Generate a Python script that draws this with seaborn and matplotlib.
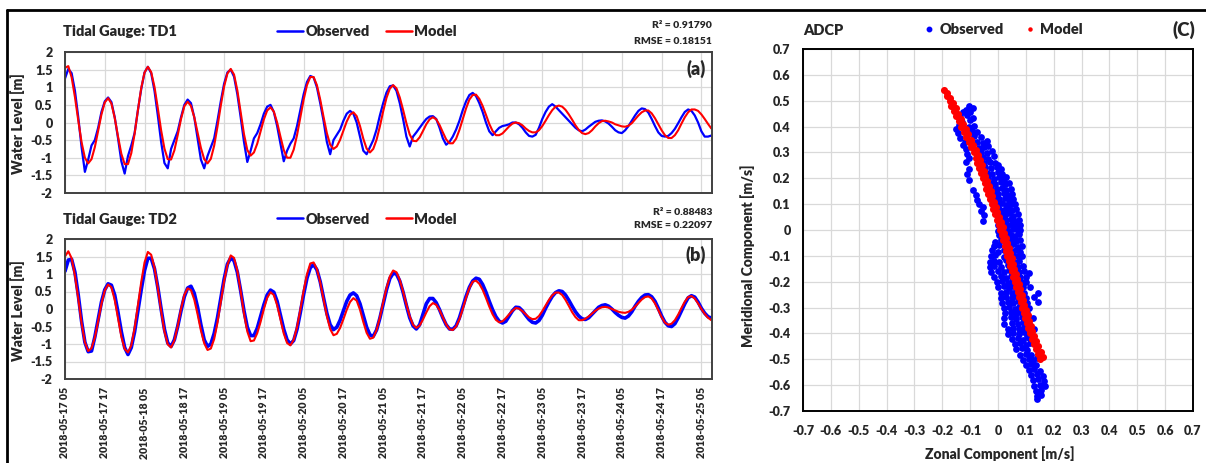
import numpy as np
import pandas as pd
import matplotlib
matplotlib.use("Agg")
import matplotlib.pyplot as plt
import matplotlib.dates as mdates
from matplotlib.lines import Line2D
import seaborn as sns

# ---------------- data ----------------
start_time = "2018-05-17 05:00"
hours = list(range(196))

td1_obs = [
    1.25, 1.52, 1.40, 0.90, 0.15, -0.70, -1.40, -1.05, -0.65, -0.50, -0.15, 0.30,
    0.60, 0.71, 0.58, 0.15, -0.45, -1.10, -1.45, -0.95, -0.65, -0.30, 0.35, 0.95,
    1.42, 1.58, 1.40, 0.90, 0.20, -0.55, -1.15, -1.30, -0.75, -0.50, -0.25, 0.15,
    0.50, 0.65, 0.55, 0.15, -0.45, -1.05, -1.30, -0.95, -0.70, -0.45, 0.05, 0.60,
    1.10, 1.42, 1.50, 1.30, 0.80, 0.15, -0.55, -1.12, -0.80, -0.45, -0.30, -0.05,
    0.25, 0.45, 0.50, 0.30, -0.10, -0.60, -1.10, -0.80, -0.60, -0.45, -0.10, 0.35,
    0.80, 1.15, 1.32, 1.28, 1.00, 0.55, 0.05, -0.55, -0.90, -0.50, -0.35, -0.20,
    0.05, 0.25, 0.33, 0.25, 0.00, -0.40, -0.80, -0.90, -0.70, -0.50, -0.20, 0.20,
    0.55, 0.85, 1.03, 1.05, 0.90, 0.55, 0.10, -0.40, -0.68, -0.40, -0.28, -0.15,
    -0.02, 0.10, 0.17, 0.18, 0.10, -0.15, -0.45, -0.63, -0.55, -0.40, -0.20, 0.05,
    0.35, 0.60, 0.78, 0.84, 0.75, 0.55, 0.30, 0.00, -0.25, -0.36, -0.25, -0.15,
    -0.10, -0.08, -0.05, 0.00, 0.00, -0.05, -0.15, -0.28, -0.38, -0.40, -0.35, -0.15,
    0.10, 0.30, 0.45, 0.52, 0.45, 0.35, 0.25, 0.15, 0.05, -0.05, -0.15, -0.22,
    -0.25, -0.20, -0.12, -0.05, 0.02, 0.05, 0.06, 0.03, -0.03, -0.12, -0.22, -0.28,
    -0.30, -0.22, -0.10, 0.05, 0.20, 0.33, 0.40, 0.38, 0.28, 0.10, -0.10, -0.28,
    -0.38, -0.40, -0.38, -0.30, -0.18, -0.02, 0.15, 0.30, 0.37, 0.33, 0.20, 0.00,
    -0.25, -0.40, -0.40, -0.37,
]

td1_mod = [
    1.55, 1.60, 1.28, 0.72, 0.06, -0.56, -1.00, -1.16, -1.04, -0.70, -0.24, 0.23,
    0.57, 0.69, 0.54, 0.13, -0.40, -0.89, -1.18, -1.18, -0.87, -0.32, 0.35, 0.98,
    1.42, 1.58, 1.43, 1.01, 0.41, -0.22, -0.74, -1.04, -1.05, -0.79, -0.36, 0.10,
    0.46, 0.59, 0.47, 0.15, -0.29, -0.72, -1.04, -1.16, -1.03, -0.66, -0.12, 0.48,
    1.02, 1.39, 1.52, 1.36, 0.91, 0.29, -0.33, -0.78, -0.94, -0.85, -0.60, -0.26,
    0.09, 0.34, 0.43, 0.31, 0.00, -0.40, -0.78, -1.00, -1.00, -0.77, -0.36, 0.15,
    0.65, 1.06, 1.29, 1.29, 1.06, 0.65, 0.16, -0.30, -0.63, -0.75, -0.68, -0.49,
    -0.23, 0.03, 0.22, 0.29, 0.18, -0.10, -0.46, -0.74, -0.85, -0.75, -0.49, -0.11,
    0.32, 0.70, 0.96, 1.06, 0.97, 0.71, 0.36, -0.02, -0.34, -0.52, -0.53, -0.42,
    -0.24, -0.05, 0.09, 0.15, 0.09, -0.07, -0.28, -0.48, -0.59, -0.59, -0.46, -0.21,
    0.10, 0.40, 0.65, 0.78, 0.79, 0.67, 0.47, 0.22, -0.04, -0.24, -0.36, -0.36,
    -0.31, -0.21, -0.11, -0.03, 0.00, -0.02, -0.08, -0.17, -0.24, -0.28, -0.28, -0.22,
    -0.10, 0.05, 0.21, 0.35, 0.45, 0.48, 0.45, 0.36, 0.23, 0.08, -0.08, -0.21,
    -0.30, -0.33, -0.30, -0.22, -0.11, -0.02, 0.04, 0.05, 0.03, 0.00, -0.05, -0.08,
    -0.11, -0.12, -0.09, -0.02, 0.09, 0.20, 0.29, 0.34, 0.34, 0.26, 0.12, -0.05,
    -0.22, -0.36, -0.44, -0.44, -0.36, -0.22, -0.03, 0.15, 0.29, 0.37, 0.37, 0.33,
    0.23, 0.10, -0.04, -0.17,
]

td2_obs = [
    1.08, 1.40, 1.42, 1.05, 0.40, -0.35, -0.95, -1.22, -1.20, -0.80, -0.30, 0.20,
    0.55, 0.72, 0.68, 0.40, -0.10, -0.65, -1.10, -1.30, -1.10, -0.65, -0.05, 0.55,
    1.10, 1.45, 1.45, 1.15, 0.62, 0.00, -0.58, -0.97, -1.07, -0.88, -0.50, -0.05,
    0.35, 0.60, 0.65, 0.45, 0.05, -0.45, -0.88, -1.07, -1.00, -0.70, -0.25, 0.30,
    0.85, 1.28, 1.46, 1.38, 1.05, 0.52, -0.05, -0.52, -0.76, -0.76, -0.55, -0.22,
    0.12, 0.40, 0.54, 0.48, 0.22, -0.18, -0.58, -0.88, -1.00, -0.90, -0.58, -0.10,
    0.42, 0.88, 1.18, 1.27, 1.12, 0.78, 0.32, -0.12, -0.45, -0.59, -0.52, -0.32,
    -0.05, 0.22, 0.40, 0.46, 0.38, 0.15, -0.18, -0.52, -0.74, -0.78, -0.60, -0.26,
    0.15, 0.55, 0.87, 1.02, 1.00, 0.80, 0.48, 0.10, -0.25, -0.48, -0.57, -0.45,
    -0.15, 0.15, 0.30, 0.30, 0.18, -0.02, -0.25, -0.45, -0.57, -0.58, -0.48, -0.25,
    0.05, 0.36, 0.62, 0.80, 0.88, 0.85, 0.70, 0.48, 0.22, -0.02, -0.22, -0.35,
    -0.40, -0.35, -0.20, -0.05, 0.05, 0.04, -0.05, -0.18, -0.30, -0.38, -0.40, -0.33,
    -0.18, 0.02, 0.20, 0.36, 0.47, 0.52, 0.50, 0.40, 0.25, 0.08, -0.08, -0.20,
    -0.28, -0.30, -0.25, -0.15, -0.05, 0.05, 0.10, 0.12, 0.08, 0.00, -0.10, -0.18,
    -0.24, -0.26, -0.20, -0.08, 0.08, 0.22, 0.33, 0.40, 0.41, 0.35, 0.22, 0.02,
    -0.20, -0.38, -0.48, -0.50, -0.42, -0.25, -0.05, 0.15, 0.32, 0.38, 0.34, 0.20,
    0.02, -0.12, -0.22, -0.26,
]

td2_mod = [
    1.50, 1.65, 1.45, 0.95, 0.30, -0.40, -0.95, -1.20, -1.12, -0.82, -0.35, 0.15,
    0.53, 0.70, 0.62, 0.26, -0.27, -0.79, -1.14, -1.24, -1.04, -0.55, 0.10, 0.77,
    1.33, 1.63, 1.55, 1.18, 0.60, -0.05, -0.64, -1.01, -1.10, -0.90, -0.49, 0.00,
    0.40, 0.59, 0.54, 0.27, -0.15, -0.61, -0.98, -1.17, -1.13, -0.86, -0.39, 0.20,
    0.79, 1.26, 1.53, 1.46, 1.09, 0.51, -0.13, -0.64, -0.92, -0.90, -0.69, -0.37,
    0.00, 0.32, 0.48, 0.40, 0.11, -0.30, -0.70, -0.97, -1.04, -0.88, -0.52, -0.02,
    0.52, 0.99, 1.30, 1.33, 1.14, 0.76, 0.28, -0.20, -0.57, -0.75, -0.71, -0.54,
    -0.29, -0.02, 0.20, 0.31, 0.24, -0.02, -0.37, -0.68, -0.85, -0.82, -0.60, -0.24,
    0.19, 0.60, 0.93, 1.10, 1.05, 0.83, 0.50, 0.13, -0.21, -0.45, -0.54, -0.47,
    -0.30, -0.10, 0.08, 0.17, 0.12, -0.03, -0.24, -0.44, -0.58, -0.60, -0.50, -0.29,
    0.00, 0.32, 0.60, 0.78, 0.81, 0.72, 0.55, 0.32, 0.07, -0.15, -0.31, -0.38,
    -0.35, -0.26, -0.15, -0.05, 0.03, 0.01, -0.06, -0.15, -0.24, -0.29, -0.28, -0.20,
    -0.06, 0.10, 0.26, 0.39, 0.47, 0.47, 0.40, 0.26, 0.09, -0.09, -0.23, -0.32,
    -0.32, -0.28, -0.21, -0.13, -0.05, 0.01, 0.05, 0.06, 0.04, 0.00, -0.04, -0.08,
    -0.10, -0.11, -0.08, -0.02, 0.07, 0.17, 0.27, 0.34, 0.36, 0.30, 0.16, -0.03,
    -0.23, -0.39, -0.45, -0.42, -0.32, -0.16, 0.03, 0.21, 0.34, 0.37, 0.30, 0.16,
    0.00, -0.14, -0.25, -0.32,
]

stats_td1 = ["R\u00b2 = 0.91790", "RMSE = 0.18151"]
stats_td2 = ["R\u00b2 = 0.88483", "RMSE = 0.22097"]

# ADCP observed (zonal u, meridional v) [m/s]
u_obs = [
    -0.105,
    -0.09, -0.115,
    -0.125, -0.10,
    -0.135, -0.11, -0.09,
    -0.13, -0.10,
    -0.15, -0.14, -0.105, -0.085,
    -0.145, -0.095, -0.075,
    -0.135, -0.12, -0.085, -0.06,
    -0.125, -0.075, -0.055, -0.04,
    -0.115, -0.07, -0.05, -0.035,
    -0.11, -0.06, -0.04, -0.02,
    -0.105, -0.055, -0.035, -0.015,
    -0.115, -0.05, -0.03, -0.01, 0.0,
    -0.105, -0.045, -0.025, -0.005, 0.01,
    -0.11, -0.04, -0.02, 0.0, 0.015,
    -0.105, -0.035, -0.015, 0.005, 0.02, 0.03,
    -0.03, -0.01, 0.01, 0.025, 0.04,
    -0.09, -0.025, -0.005, 0.015, 0.03, 0.045,
    -0.08, -0.015, 0.0, 0.02, 0.035, 0.05,
    -0.075, -0.01, 0.005, 0.025, 0.04, 0.055,
    -0.07, -0.055, 0.0, 0.015, 0.03, 0.045, 0.06,
    -0.06, 0.005, 0.02, 0.035, 0.05, 0.065,
    -0.05, 0.01, 0.025, 0.04, 0.055, 0.07,
    -0.055, 0.015, 0.03, 0.045, 0.06, 0.075,
    0.0, 0.02, 0.035, 0.05, 0.065, 0.08,
    0.0, 0.025, 0.04, 0.055, 0.07, 0.08,
    0.005, 0.03, 0.045, 0.06, 0.075,
    -0.01, 0.01, 0.035, 0.05, 0.065, 0.08,
    -0.015, 0.005, 0.04, 0.055, 0.07, 0.085,
    -0.02, 0.0, 0.02, 0.05, 0.065, 0.08,
    -0.025, -0.01, 0.02, 0.055, 0.07, 0.085,
    -0.03, -0.015, 0.005, 0.03, 0.06, 0.075,
    -0.03, -0.015, 0.01, 0.035, 0.07, 0.09,
    -0.025, 0.0, 0.02, 0.04, 0.075, 0.095, 0.11,
    -0.015, 0.01, 0.03, 0.045, 0.08, 0.10,
    -0.005, 0.015, 0.035, 0.05, 0.085, 0.10,
    0.0, 0.02, 0.04, 0.055, 0.09, 0.115,
    0.01, 0.03, 0.05, 0.065, 0.095, 0.145,
    0.01, 0.03, 0.05, 0.065, 0.10, 0.13,
    0.015, 0.035, 0.055, 0.07, 0.105, 0.145,
    0.02, 0.04, 0.06, 0.075, 0.11,
    0.025, 0.045, 0.065, 0.08, 0.105,
    0.02, 0.045, 0.065, 0.085, 0.125,
    0.02, 0.05, 0.07, 0.09, 0.11,
    0.035, 0.055, 0.075, 0.095, 0.13,
    0.035, 0.055, 0.075, 0.095, 0.105,
    0.05, 0.07, 0.09, 0.11,
    0.06, 0.08, 0.10, 0.115,
    0.065, 0.085, 0.105,
    0.08, 0.10, 0.12,
    0.09, 0.11, 0.125, 0.14,
    0.10, 0.12, 0.135,
    0.11, 0.13, 0.15,
    0.12, 0.14, 0.16,
    0.125, 0.145, 0.165,
    0.13, 0.15, 0.17,
    0.135, 0.155,
    0.14, 0.155,
    0.14,
]
v_obs = [
    0.48,
    0.472, 0.466,
    0.455, 0.458,
    0.438, 0.445, 0.432,
    0.418, 0.424,
    0.39, 0.405, 0.398, 0.402,
    0.375, 0.383, 0.378,
    0.355, 0.34, 0.362, 0.358,
    0.328, 0.342, 0.338, 0.345,
    0.315, 0.318, 0.322, 0.325,
    0.295, 0.302, 0.298, 0.305,
    0.278, 0.282, 0.276, 0.285,
    0.262, 0.258, 0.264, 0.26, 0.252,
    0.235, 0.242, 0.238, 0.244, 0.236,
    0.215, 0.222, 0.218, 0.224, 0.216,
    0.195, 0.202, 0.198, 0.204, 0.196, 0.205,
    0.182, 0.178, 0.184, 0.176, 0.18,
    0.155, 0.162, 0.158, 0.164, 0.156, 0.16,
    0.136, 0.142, 0.138, 0.144, 0.136, 0.14,
    0.115, 0.122, 0.118, 0.124, 0.116, 0.12,
    0.102, 0.09, 0.098, 0.104, 0.096, 0.102, 0.1,
    0.075, 0.082, 0.078, 0.084, 0.076, 0.08,
    0.058, 0.062, 0.058, 0.064, 0.056, 0.06,
    0.035, 0.042, 0.038, 0.044, 0.036, 0.04,
    0.018, 0.022, 0.018, 0.024, 0.016, 0.02,
    -0.004, 0.002, -0.002, 0.004, -0.004, 0.0,
    -0.018, -0.022, -0.018, -0.024, -0.016,
    -0.045, -0.038, -0.042, -0.036, -0.044, -0.04,
    -0.062, -0.058, -0.062, -0.056, -0.064, -0.06,
    -0.078, -0.084, -0.076, -0.082, -0.078, -0.084,
    -0.102, -0.098, -0.104, -0.096, -0.102, -0.1,
    -0.122, -0.118, -0.124, -0.116, -0.122, -0.12,
    -0.142, -0.138, -0.144, -0.136, -0.142, -0.14,
    -0.162, -0.158, -0.164, -0.156, -0.162, -0.158, -0.165,
    -0.182, -0.178, -0.184, -0.176, -0.182, -0.18,
    -0.202, -0.198, -0.204, -0.196, -0.202, -0.2,
    -0.222, -0.218, -0.224, -0.216, -0.222, -0.22,
    -0.242, -0.238, -0.244, -0.236, -0.242, -0.245,
    -0.262, -0.258, -0.264, -0.256, -0.262, -0.26,
    -0.282, -0.278, -0.284, -0.276, -0.282, -0.28,
    -0.302, -0.298, -0.304, -0.296, -0.302,
    -0.322, -0.318, -0.324, -0.316, -0.322,
    -0.342, -0.338, -0.344, -0.336, -0.342,
    -0.362, -0.358, -0.364, -0.356, -0.362,
    -0.382, -0.378, -0.384, -0.376, -0.382,
    -0.402, -0.398, -0.404, -0.396, -0.41,
    -0.422, -0.418, -0.424, -0.416,
    -0.442, -0.438, -0.444, -0.436,
    -0.462, -0.458, -0.464,
    -0.482, -0.478, -0.484,
    -0.502, -0.498, -0.504, -0.496,
    -0.522, -0.518, -0.524,
    -0.542, -0.538, -0.544,
    -0.562, -0.558, -0.564,
    -0.582, -0.578, -0.584,
    -0.602, -0.598, -0.604,
    -0.622, -0.618,
    -0.642, -0.638,
    -0.652,
]

# ADCP model (zonal u, meridional v) [m/s]
u_mod = [
    -0.193, -0.184, -0.183, -0.174, -0.174, -0.163, -0.168, -0.151, -0.159, -0.142,
    -0.150, -0.133, -0.141, -0.124, -0.132, -0.115, -0.123, -0.106, -0.114, -0.097,
    -0.105, -0.088, -0.096, -0.079, -0.087, -0.072, -0.080, -0.065, -0.074, -0.058,
    -0.067, -0.052, -0.061, -0.045, -0.054, -0.039, -0.048, -0.033, -0.042, -0.026,
    -0.035, -0.020, -0.029, -0.014, -0.023, -0.008, -0.017, -0.002, -0.011, 0.005,
    -0.004, 0.011, 0.002, 0.017, 0.008, 0.023, 0.013, 0.028, 0.018, 0.033,
    0.024, 0.038, 0.029, 0.043, 0.034, 0.049, 0.039, 0.054, 0.044, 0.059,
    0.050, 0.064, 0.055, 0.069, 0.060, 0.075, 0.065, 0.080, 0.070, 0.085,
    0.076, 0.090, 0.081, 0.095, 0.086, 0.101, 0.092, 0.106, 0.097, 0.112,
    0.103, 0.118, 0.108, 0.123, 0.114, 0.130, 0.122, 0.137, 0.129, 0.145,
    0.137, 0.153, 0.144, 0.160, 0.152,
]
v_mod = [
    0.54, 0.53, 0.52, 0.51, 0.50, 0.49, 0.48, 0.47, 0.46, 0.45,
    0.44, 0.43, 0.42, 0.41, 0.40, 0.39, 0.38, 0.37, 0.36, 0.35,
    0.34, 0.33, 0.32, 0.31, 0.30, 0.29, 0.28, 0.27, 0.26, 0.25,
    0.24, 0.23, 0.22, 0.21, 0.20, 0.19, 0.18, 0.17, 0.16, 0.15,
    0.14, 0.13, 0.12, 0.11, 0.10, 0.09, 0.08, 0.07, 0.06, 0.05,
    0.04, 0.03, 0.02, 0.01, 0.00, -0.01, -0.02, -0.03, -0.04, -0.05,
    -0.06, -0.07, -0.08, -0.09, -0.10, -0.11, -0.12, -0.13, -0.14, -0.15,
    -0.16, -0.17, -0.18, -0.19, -0.20, -0.21, -0.22, -0.23, -0.24, -0.25,
    -0.26, -0.27, -0.28, -0.29, -0.30, -0.31, -0.32, -0.33, -0.34, -0.35,
    -0.36, -0.37, -0.38, -0.39, -0.40, -0.41, -0.42, -0.43, -0.44, -0.45,
    -0.46, -0.47, -0.48, -0.49, -0.50,
]

ticks_c = [-0.7, -0.6, -0.5, -0.4, -0.3, -0.2, -0.1, 0, 0.1, 0.2, 0.3, 0.4, 0.5, 0.6, 0.7]
ticks_wl = [-2, -1.5, -1, -0.5, 0, 0.5, 1, 1.5, 2]

# ---------------- style ----------------
sns.set_style("white")
plt.rcParams["font.family"] = ["Lato", "DejaVu Sans"]
plt.rcParams["font.weight"] = "heavy"
plt.rcParams["axes.labelweight"] = "heavy"

FW = "heavy"
BLUE = "#0000FF"
RED = "#FF0000"
GRID = "#d9d9d9"
W, H = 1206, 463

fig = plt.figure(figsize=(W / 100, H / 100), dpi=100)
fig.patch.set_facecolor("white")


def fx(px):
    return px / W


def fy(py):
    return 1 - py / H


t0 = pd.Timestamp(start_time)
times = [t0 + pd.Timedelta(hours=h) for h in hours]
xend = t0 + pd.Timedelta(hours=195.2)

df1 = pd.DataFrame({"time": times, "obs": td1_obs, "mod": td1_mod})
df2 = pd.DataFrame({"time": times, "obs": td2_obs, "mod": td2_mod})

ax_a = fig.add_axes([fx(65), fy(193), fx(712) - fx(65), fy(52) - fy(193)])
ax_b = fig.add_axes([fx(65), fy(379), fx(712) - fx(65), fy(239) - fy(379)])


def style_ts(ax, df, obs_lw, label_bottom):
    sns.lineplot(data=df, x="time", y="obs", ax=ax, color=BLUE, lw=obs_lw, legend=False)
    sns.lineplot(data=df, x="time", y="mod", ax=ax, color=RED, lw=1.5, legend=False)
    ax.set_xlim(t0, xend)
    ax.set_ylim(-2, 2)
    ax.set_yticks(ticks_wl)
    ax.set_yticklabels([f"{v:g}" for v in ticks_wl])
    ax.xaxis.set_major_locator(mdates.HourLocator(byhour=[5, 17]))
    ax.xaxis.set_major_formatter(mdates.DateFormatter("%Y-%m-%d %H"))
    ax.grid(True, color=GRID, lw=0.9)
    ax.set_axisbelow(True)
    for s in ax.spines.values():
        s.set_color("#404040")
        s.set_linewidth(1.4)
    ax.tick_params(axis="y", length=0, pad=9, labelsize=9)
    ax.tick_params(axis="x", length=0, pad=6, labelsize=7.6, labelbottom=label_bottom,
                   labelrotation=90)
    ax.set_xlabel("")
    ax.set_ylabel("Water Level [m]", fontsize=10, fontweight=FW)
    ax.yaxis.set_label_coords(-0.062, 0.49)


style_ts(ax_a, df1, 1.6, False)
style_ts(ax_b, df2, 2.6, True)

ax_a.text(0.991, 0.879, "(a)", transform=ax_a.transAxes, ha="right", va="center",
          fontsize=13, fontweight=FW)
ax_b.text(0.991, 0.886, "(b)", transform=ax_b.transAxes, ha="right", va="center",
          fontsize=13, fontweight=FW)

handles_ts = [Line2D([], [], color=BLUE, lw=1.8), Line2D([], [], color=RED, lw=1.8)]
for ycen, title, stats, yst in [(31.5, "Tidal Gauge: TD1", stats_td1, (25, 42)),
                                 (219, "Tidal Gauge: TD2", stats_td2, (212.5, 226))]:
    fig.text(fx(63), fy(ycen), title, ha="left", va="center", fontsize=10.5, fontweight=FW)
    fig.legend(handles_ts, ["Observed", "Model"], loc="center",
               bbox_to_anchor=(fx(367), fy(ycen)), ncol=2, frameon=False, fontsize=10.5,
               handlelength=1.8, handletextpad=0.15, columnspacing=1.1,
               borderaxespad=0, borderpad=0)
    fig.text(fx(712), fy(yst[0]), stats[0], ha="right", va="center", fontsize=7.5, fontweight=FW)
    fig.text(fx(712), fy(yst[1]), stats[1], ha="right", va="center", fontsize=7.5, fontweight=FW)

# ---------------- panel C ----------------
ax_c = fig.add_axes([fx(803), fy(411), fx(1193) - fx(803), fy(49) - fy(411)])
sns.scatterplot(x=u_obs, y=v_obs, ax=ax_c, color=BLUE, s=24, linewidth=0, legend=False)
sns.scatterplot(x=u_mod, y=v_mod, ax=ax_c, color=RED, s=26, linewidth=0, legend=False)
ax_c.set_xlim(-0.7, 0.7)
ax_c.set_ylim(-0.7, 0.7)
ax_c.set_xticks(ticks_c)
ax_c.set_yticks(ticks_c)
ax_c.set_xticklabels([f"{v:g}" for v in ticks_c])
ax_c.set_yticklabels([f"{v:g}" for v in ticks_c])
ax_c.grid(True, color=GRID, lw=0.9)
ax_c.set_axisbelow(True)
for s in ax_c.spines.values():
    s.set_color("black")
    s.set_linewidth(1.4)
ax_c.tick_params(axis="both", length=0, labelsize=9)
ax_c.tick_params(axis="y", pad=9)
ax_c.tick_params(axis="x", pad=10)
ax_c.set_xlabel("Zonal Component [m/s]", fontsize=10, fontweight=FW)
ax_c.set_ylabel("Meridional Component [m/s]", fontsize=10, fontweight=FW)
ax_c.xaxis.set_label_coords(0.505, -0.098)
ax_c.yaxis.set_label_coords(-0.123, 0.43)

fig.text(fx(803), fy(30.5), "ADCP", ha="left", va="center", fontsize=10.5, fontweight=FW)
fig.text(fx(1195), fy(30), "(C)", ha="right", va="center", fontsize=13.5, fontweight=FW)
handles_c = [Line2D([], [], color=BLUE, marker="o", ls="none", markersize=3.2),
             Line2D([], [], color=RED, marker="o", ls="none", markersize=2.2)]
fig.legend(handles_c, ["Observed", "Model"], loc="center",
           bbox_to_anchor=(fx(1004), fy(30)), ncol=2, frameon=False, fontsize=10.5,
           handlelength=0.6, handletextpad=0.4, columnspacing=1.5,
           borderaxespad=0, borderpad=0)

# ---------------- outer frame ----------------
fig.add_artist(Line2D([fx(7), 1.0], [fy(10), fy(10)], transform=fig.transFigure,
                      color="black", lw=2))
fig.add_artist(Line2D([fx(7), fx(7)], [fy(10), 0.0], transform=fig.transFigure,
                      color="black", lw=2))

fig.savefig("out.png", dpi=100, facecolor="white")
